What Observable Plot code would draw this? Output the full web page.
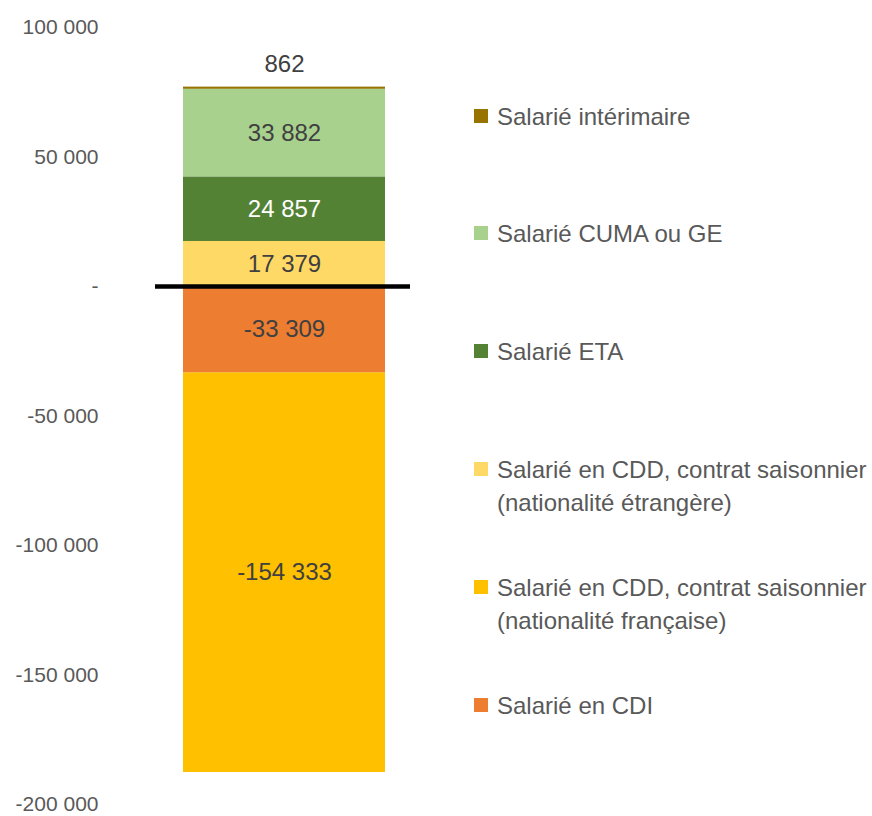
<!DOCTYPE html>
<html>
<head>
<meta charset="utf-8">
<script src="https://cdn.jsdelivr.net/npm/d3@7"></script>
<script src="https://cdn.jsdelivr.net/npm/@observablehq/plot@0.6"></script>
<style>
  html, body { margin: 0; padding: 0; background: #fff; }
  #wrap { position: relative; width: 872px; height: 816px; font-family: "Liberation Sans", Arial, sans-serif; }
  #chart { position: absolute; left: 0; top: 0; }
  #legend { position: absolute; left: 474px; top: 0; width: 398px; }
  .item { position: absolute; left: 0; display: flex; align-items: flex-start; }
  .sw { width: 14px; height: 14px; margin-top: 9px; margin-right: 9px; flex: none; }
  .lbl { font-size: 24px; line-height: 33px; color: #595959; white-space: pre; }
</style>
</head>
<body>
<div id="wrap">
  <div id="chart"></div>
  <div id="legend"></div>
</div>
<script>
// Categories in legend order (top to bottom)
const categories = [
  "Salarié intérimaire",
  "Salarié CUMA ou GE",
  "Salarié ETA",
  "Salarié en CDD, contrat saisonnier (nationalité étrangère)",
  "Salarié en CDD, contrat saisonnier (nationalité française)",
  "Salarié en CDI"
];
const values = [862, 33882, 24857, 17379, -154333, -33309];
const colors = ["#997300", "#A9D18E", "#548235", "#FFD966", "#FFC000", "#ED7D31"];
// stacking order from the zero line outward
const stackOrder = [
  "Salarié en CDD, contrat saisonnier (nationalité étrangère)",
  "Salarié ETA",
  "Salarié CUMA ou GE",
  "Salarié intérimaire",
  "Salarié en CDI",
  "Salarié en CDD, contrat saisonnier (nationalité française)"
];
const yTicks = [100000, 50000, 0, -50000, -100000, -150000, -200000];

const data = categories.map((c, i) => ({bar: "total", category: c, value: values[i]}));

const locale = d3.formatLocale({decimal: ",", thousands: "\u00a0", grouping: [3], currency: ["", " €"], minus: "-"});
const fmt = locale.format(",d");
const tickFmt = d => d === 0 ? "-" : fmt(d);

const W = 440, H = 816;
const stackOpts = {x: "bar", y: "value", z: "category", order: stackOrder};

const plot = Plot.plot({
  width: W,
  height: H,
  marginTop: 27,
  marginBottom: 12,
  marginLeft: 155,
  marginRight: 30,
  style: {fontFamily: "Liberation Sans, Arial, sans-serif", background: "#fff"},
  x: {type: "band", domain: ["total"], range: [183, 385], padding: 0, axis: null},
  y: {domain: [-200000, 100000], axis: null},
  color: {domain: categories, range: colors},
  marks: [
    Plot.barY(data, Plot.stackY({...stackOpts, fill: "category"})),
    Plot.axisY({ticks: yTicks, tickFormat: tickFmt, tickSize: 0, tickPadding: 57, fontSize: 21, color: "#595959", label: null}),
    Plot.ruleY([0], {stroke: "#000", strokeWidth: 4.5}),
    Plot.text(data, Plot.stackY({...stackOpts,
      text: d => (d.category === "Salarié ETA" || d.category === "Salarié intérimaire") ? null : fmt(d.value),
      fill: "#404040", fontSize: 24})),
    Plot.text(data, Plot.stackY({...stackOpts,
      text: d => d.category === "Salarié ETA" ? fmt(d.value) : null,
      fill: "#ffffff", fontSize: 24})),
    Plot.text(data, Plot.stackY({...stackOpts,
      text: d => d.category === "Salarié intérimaire" ? fmt(d.value) : null,
      fill: "#404040", fontSize: 24, dy: -24}))
  ]
});
document.getElementById("chart").appendChild(plot);

// Legend
const legend = document.getElementById("legend");
const firstLine = 116, step = 117.8;
categories.forEach((c, i) => {
  const item = document.createElement("div");
  item.className = "item";
  item.style.top = (firstLine + i * step - 16.5) + "px";
  const sw = document.createElement("div");
  sw.className = "sw";
  sw.style.background = colors[i];
  const lbl = document.createElement("div");
  lbl.className = "lbl";
  lbl.textContent = c.replace(" (", "\n(");
  item.appendChild(sw);
  item.appendChild(lbl);
  legend.appendChild(item);
});
</script>
</body>
</html>
